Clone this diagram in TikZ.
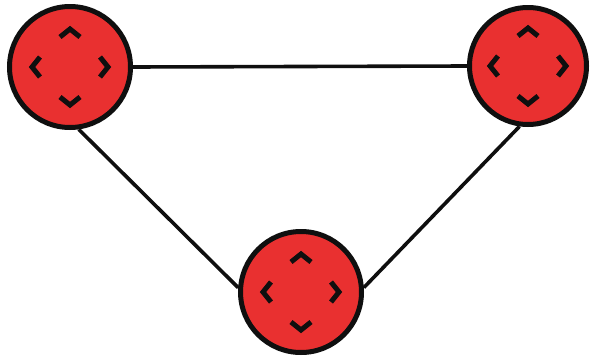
\documentclass[tikz,border=0pt]{standalone}
\definecolor{joyred}{RGB}{233,48,48}
\definecolor{ink}{RGB}{15,15,15}
\tikzset{
  pad/.style={circle,draw=ink,fill=joyred,line width=5pt,inner sep=0pt,minimum size=#1},
  chev/.style={draw=ink,line width=5pt,line cap=butt,line join=miter},
  link/.style={draw=ink,line width=3.6pt},
  pics/joy/.style={code={
    \draw[chev] (-10,-30) -- (0,-38) -- (10,-30);
    \draw[chev] (-10,30) -- (0,38) -- (10,30);
    \draw[chev] (-30,-10) -- (-38,0) -- (-30,10);
    \draw[chev] (30,-10) -- (38,0) -- (30,10);
  }}
}
\begin{document}
\begin{tikzpicture}[x=1pt,y=-1pt]
\useasboundingbox (0,0) rectangle (592,359);
\node[pad=121pt] (L) at (70,67) {};
\node[pad=117pt] (R) at (528,66) {};
\node[pad=121pt] (B) at (301,292) {};
\pic at (L) {joy};
\pic at (R) {joy};
\pic at (B) {joy};
\draw[link] (L.east) -- (R.west);
\draw[link] (L.-82) -- (B.176);
\draw[link] (R.-98) -- (B.4);
\end{tikzpicture}
\end{document}
